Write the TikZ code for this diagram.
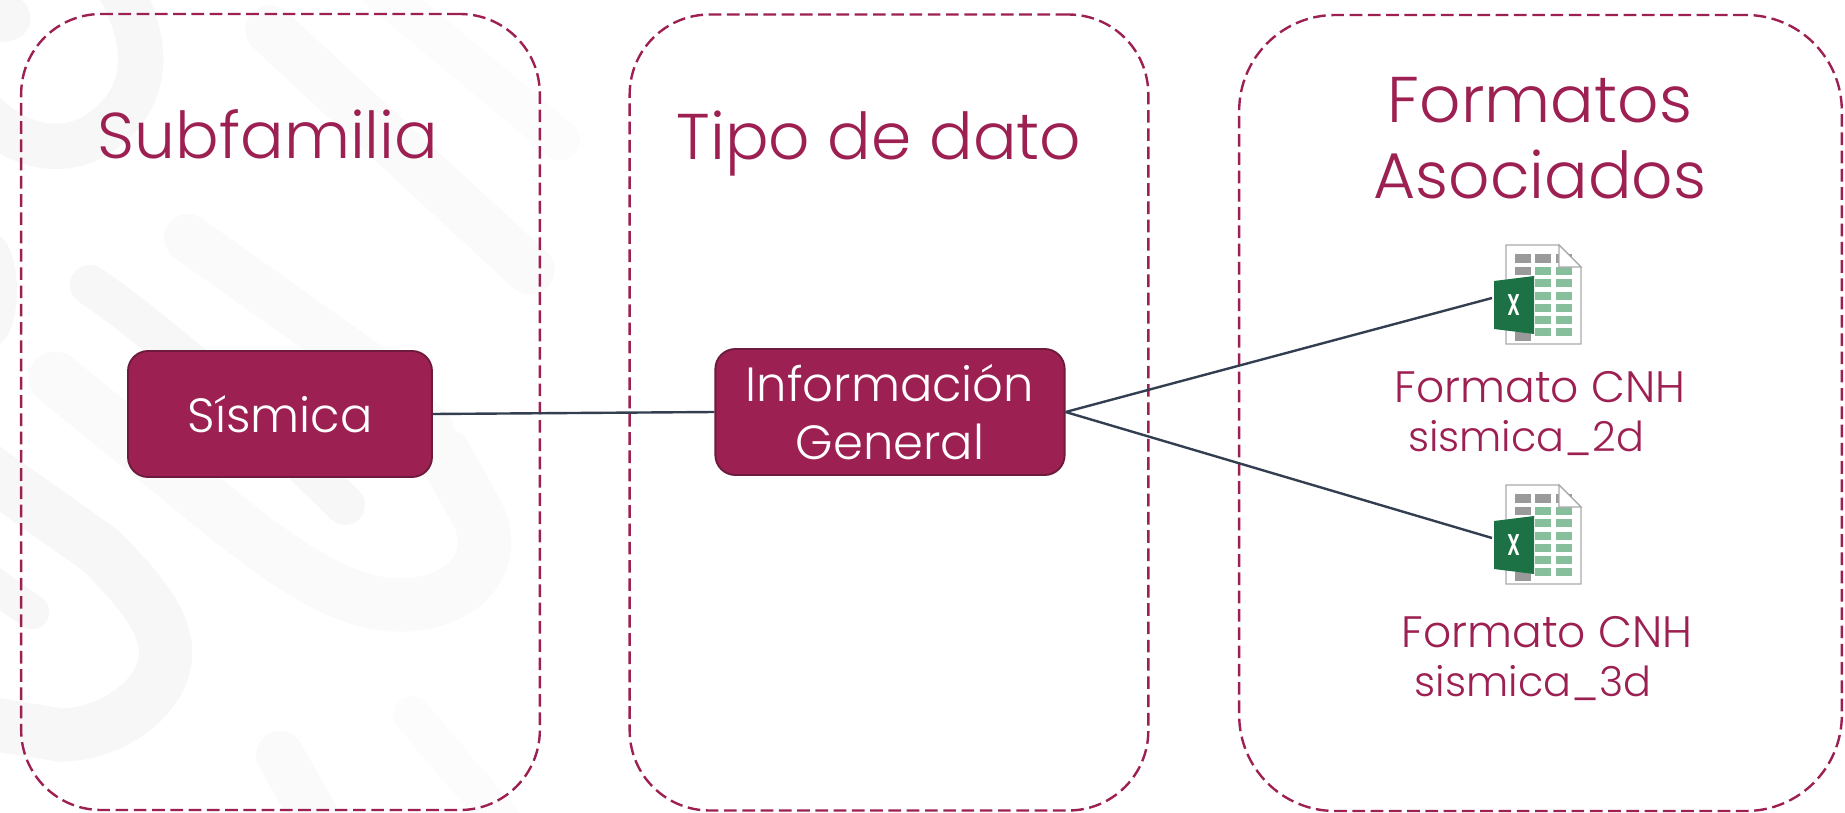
\documentclass[tikz,border=0pt]{standalone}
\usepackage{fontspec}
\usepackage{graphicx}
\setmainfont{Poppins Light}
\usetikzlibrary{positioning}

\definecolor{guinda}{HTML}{9D2053}
\definecolor{guindaosc}{HTML}{6E1A3C}
\definecolor{linea}{HTML}{333F50}
\definecolor{marca}{HTML}{F7F7F7}
\definecolor{marcab}{HTML}{FAFAFA}
\definecolor{marcac}{HTML}{FCFCFC}
\definecolor{verdexl}{HTML}{1D7245}
\definecolor{verdecel}{HTML}{87BF9C}
\definecolor{grisicon}{HTML}{9A9A9A}
\definecolor{grisdoc}{HTML}{ABABAB}

\tikzset{
  every picture/.style={line width=0.75pt},
  panel/.style={draw=guinda,dash pattern=on 9.5pt off 4.2pt,line width=1.8pt,rounded corners=60pt,minimum width=389pt,minimum height=597pt,inner sep=0pt},
  titulo/.style={text=guinda,font=\fontsize{48.5}{57}\selectfont,align=center,inner sep=0pt},
  caja/.style={draw=guindaosc,line width=1.4pt,fill=guinda,text=white,rounded corners=15pt,align=center,inner sep=0pt,font=\fontsize{36}{43.5}\selectfont},
  formato/.style={text=guinda,font=\fontsize{33}{40}\selectfont,inner sep=0pt},
  nombre/.style={text=guinda,font=\fontsize{31}{40}\selectfont,inner sep=0pt},
  union/.style={draw=linea,line width=1.8pt},
  fondo/.style={line cap=round,line join=round},
  excel/.pic={
    \draw [grisdoc,line width=1pt,fill=white] (12,-53) -- (65,-53) -- (87,-31) -- (87,46) -- (12,46) -- cycle ;
    \foreach \cx in {21,41,62} \fill [grisicon] (\cx,-44) rectangle ++(16,9) ;
    \fill [grisicon] (21,-31) rectangle ++(16,8) ;
    \fill [grisicon] (21,34) rectangle ++(16,9) ;
    \foreach \ry in {-31,-19,-6,6,18,30} {
      \fill [verdecel] (41,\ry) rectangle ++(16,8) ;
      \fill [verdecel] (62,\ry) rectangle ++(16,8) ;
    }
    \fill [white] (65,-53) -- (87,-31) -- (65,-31) -- cycle ;
    \draw [grisdoc,line width=1pt] (65,-53) -- (87,-31) -- (65,-31) -- cycle ;
    \fill [verdexl] (0,-17) -- (40,-22) -- (40,36) -- (0,31) -- cycle ;
    \node [text=white,font=\bfseries\fontsize{15}{15}\selectfont,inner sep=0pt] at (20,7) {\scalebox{0.95}[1.5]{X}};
  }
}

\begin{document}
\begin{tikzpicture}[x=0.75pt,y=0.75pt,yscale=-1,xscale=1]
\useasboundingbox (0,0) rectangle (1845,813);

% watermark in the background
\begin{scope}
\clip (0,0) rectangle (1845,813);
\draw [fondo,marca,line width=34pt] (-20,110) .. controls (20,150) and (70,160) .. (110,125) .. controls (150,90) and (150,40) .. (115,-20) ;
\fill [marca] (0,0) -- (22,0) .. controls (38,15) and (32,42) .. (0,42) -- cycle ;
\fill [marca] (-5,290) ellipse (22 and 55) ;
\draw [fondo,marcab,line width=37pt] (270,30) -- (530,270) ;
\draw [fondo,marcac,line width=30pt] (380,-10) -- (560,140) ;
\draw [fondo,marcab,line width=36pt] (188,238) -- (367,365) -- (430,430) ;
\draw [fondo,marca,line width=30pt] (90,285) .. controls (170,340) and (280,440) .. (345,505) ;
\draw [fondo,marcab,line width=40pt] (55,378) -- (230,520) .. controls (300,575) and (350,605) .. (400,605) .. controls (465,605) and (500,560) .. (478,515) -- (445,455) ;
\draw [fondo,marca,line width=40pt] (-20,465) -- (100,550) .. controls (140,590) and (170,625) .. (165,660) .. controls (160,700) and (110,735) .. (60,735) -- (-20,722) ;
\draw [fondo,marca,line width=26pt] (-20,575) -- (32,612) ;
\draw [fondo,marcab,line width=36pt] (280,755) -- (325,835) ;
\draw [fondo,marcac,line width=28pt] (412,715) -- (510,830) ;
\end{scope}

% panels
\node [panel] (pan1) at (280.5,412) {};
\node [panel] (pan2) at (889,412.5) {};
\node [panel,minimum width=452pt,rounded corners=72pt] (pan3) at (1540.5,413) {};

% titles
\node [titulo] (tit1) at (268,134) {Subfamilia};
\node [titulo] (tit2) at (879,144) {Tipo de dato};
\node [titulo] (tit3) at (1540,138) {Formatos\\Asociados};

% boxes
\node [caja,minimum width=228pt,minimum height=94.5pt] (sis) at (280,414) {Sísmica};
\node [caja,minimum width=262pt,minimum height=94.5pt] (inf) at (890,412) {Información\\General};

% excel icons
\pic [yscale=-1] (xl1) at (1494,298) {excel};
\pic [yscale=-1] (xl2) at (1494,538) {excel};
\coordinate (xlin1) at (1492,298);
\coordinate (xlin2) at (1492,538);

% file names
\node [formato] (fcnh1) at (1540,387) {Formato CNH};
\node [nombre] (snom1) at (1526,438) {sismica\_2d};
\node [formato] (fcnh2) at (1547,632) {Formato CNH};
\node [nombre] (snom2) at (1533,683) {sismica\_3d};

% connectors
\draw [union] (sis.east) -- (inf.west);
\draw [union] (inf.east) -- (xlin1);
\draw [union] (inf.east) -- (xlin2);

\end{tikzpicture}
\end{document}
